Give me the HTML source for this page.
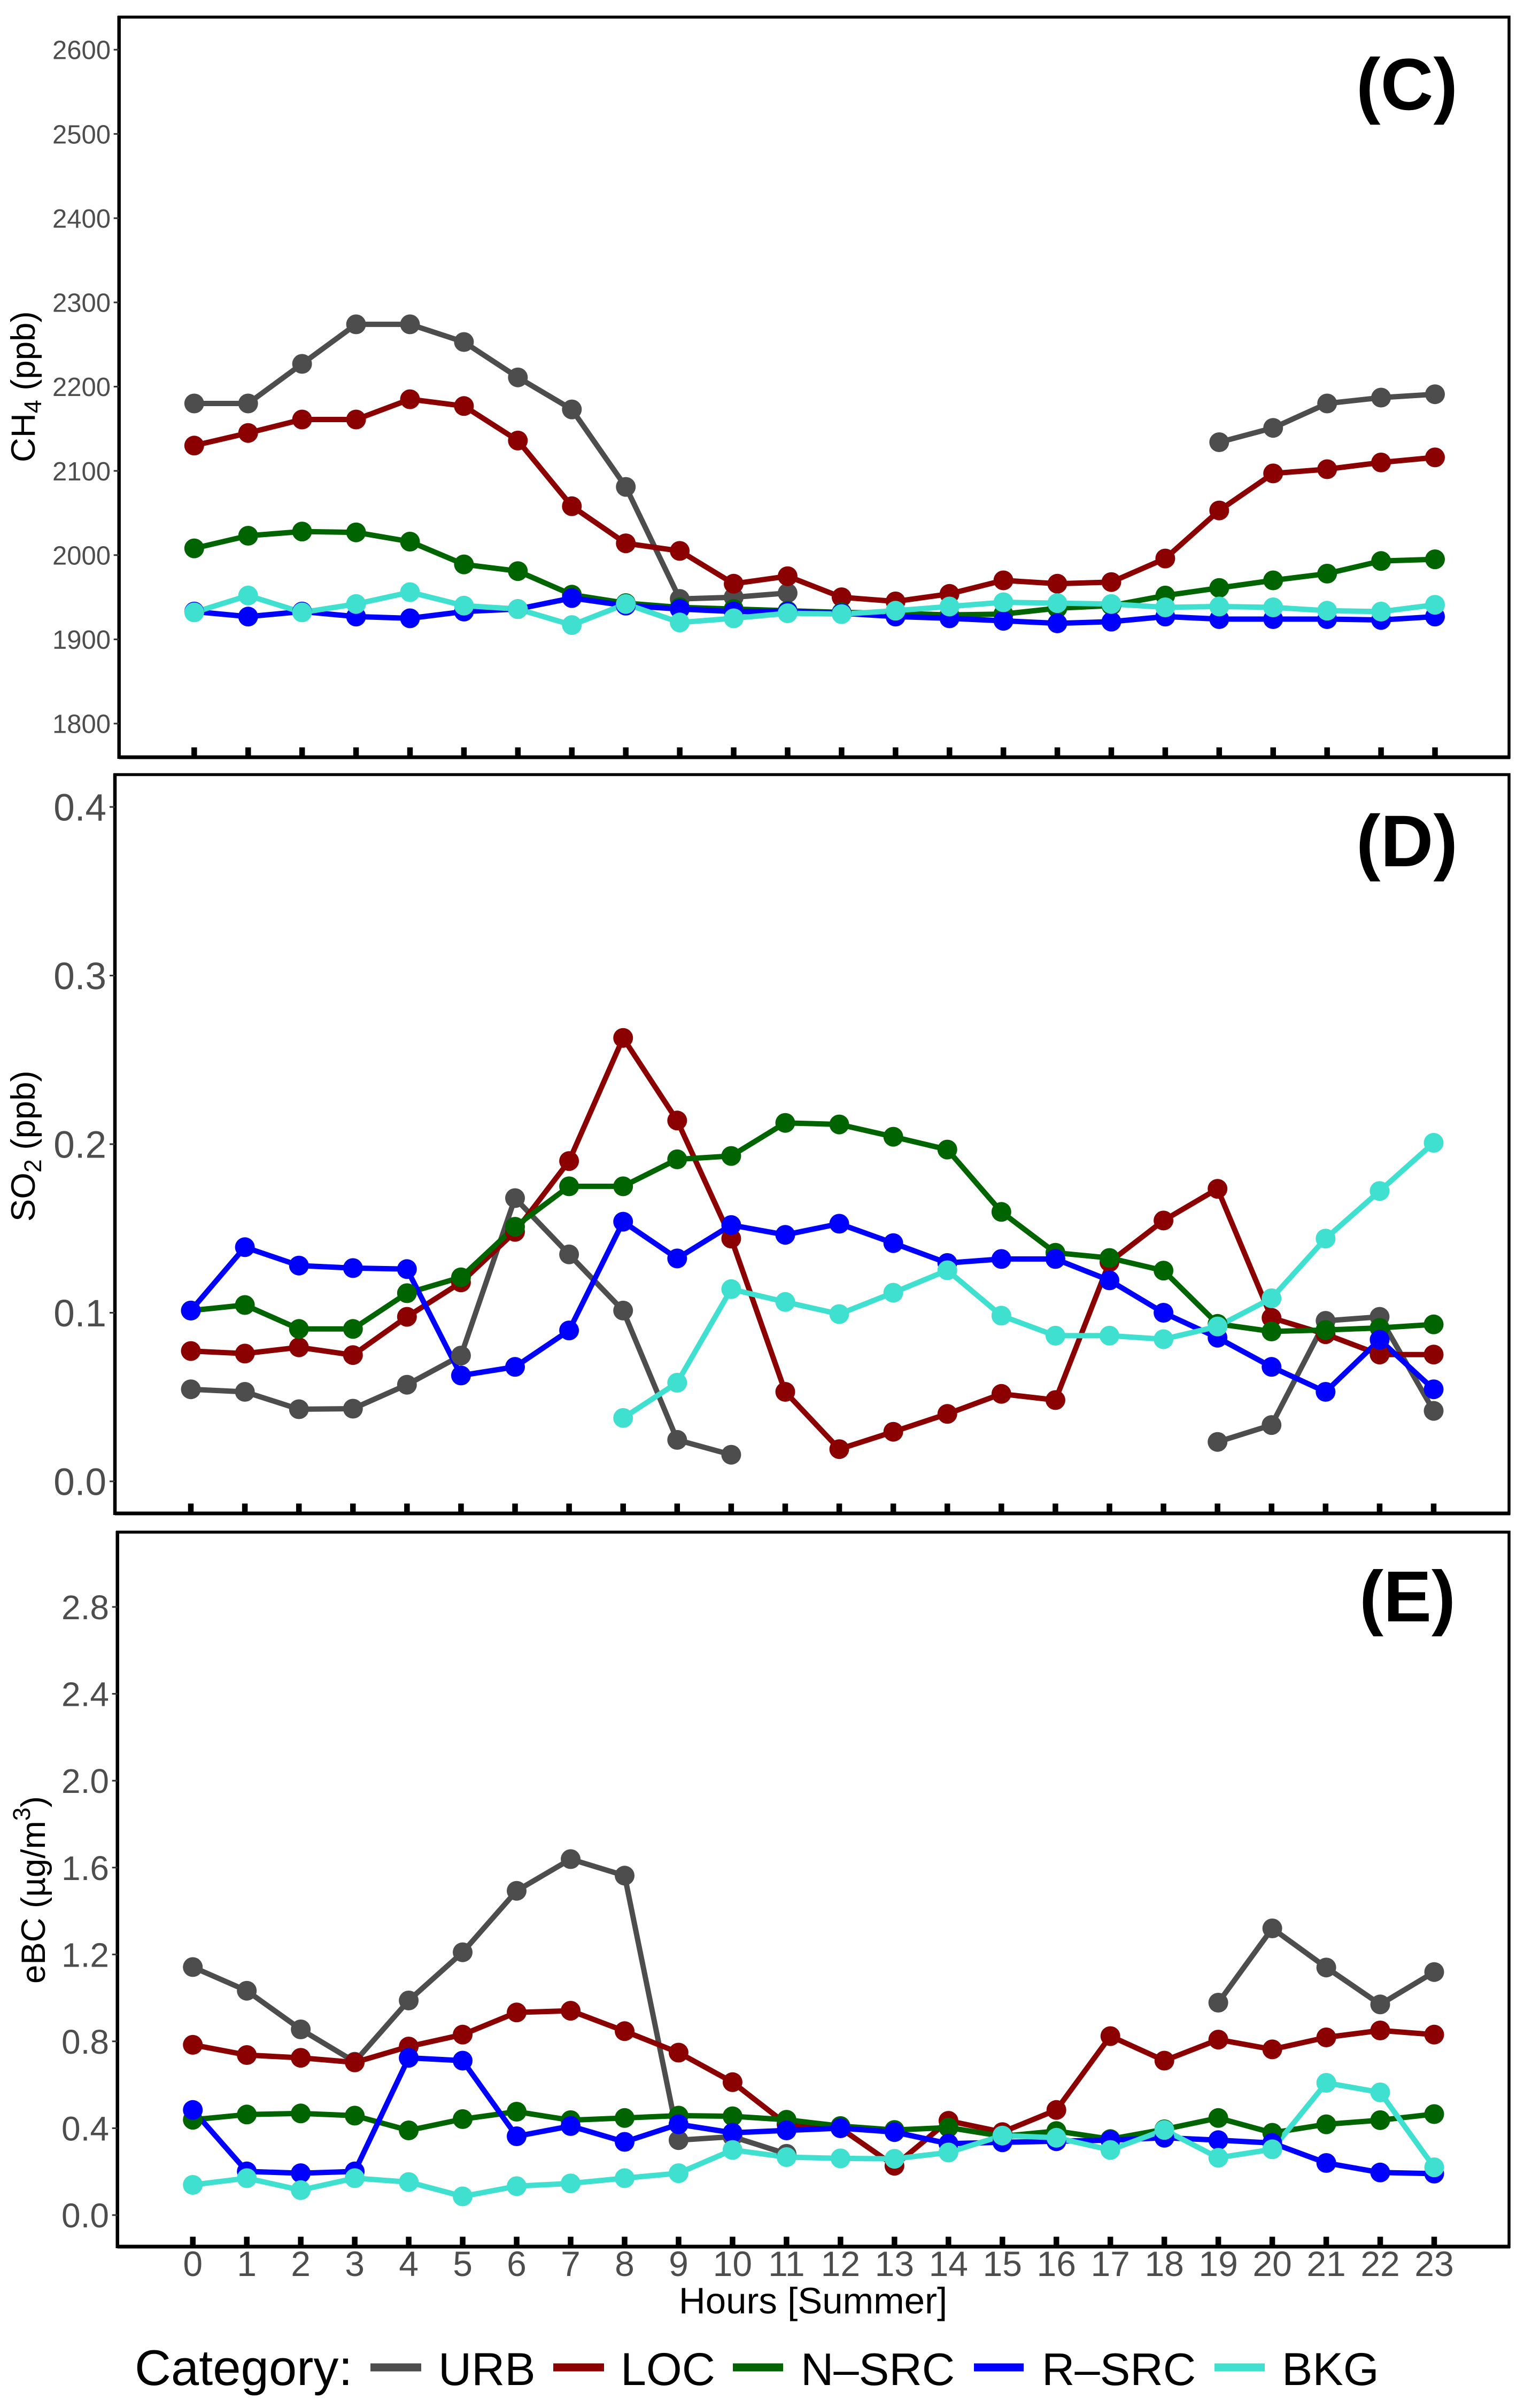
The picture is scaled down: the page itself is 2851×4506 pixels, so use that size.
<!DOCTYPE html>
<html lang="en">
<head>
<meta charset="utf-8">
<title>Diurnal profiles of CH4, SO2 and eBC by category (Summer)</title>
<style>
html,body{margin:0;padding:0;background:#fff;}
svg{display:block;font-family:"Liberation Sans",sans-serif;}
</style>
</head>
<body>
<svg id="chart" xmlns="http://www.w3.org/2000/svg" width="2851" height="4506" viewBox="0 0 2851 4506">
  <rect x="0" y="0" width="2851" height="4506" fill="#ffffff"/>
  <g id="plots"></g>

  <text transform="translate(65,865) rotate(-90)" font-size="63.5" fill="#000">CH<tspan font-size="45" dy="12">4</tspan><tspan dy="-12"> (ppb)</tspan></text>
  <text transform="translate(65,2286) rotate(-90)" font-size="63.5" fill="#000">SO<tspan font-size="45" dy="12">2</tspan><tspan dy="-12"> (ppb)</tspan></text>
  <text transform="translate(84,3712) rotate(-90)" font-size="63.5" fill="#000">eBC (µg/m<tspan font-size="45" dy="-28">3</tspan><tspan dy="28">)</tspan></text>

  <text x="2632" y="205" font-size="137" font-weight="bold" text-anchor="middle" fill="#000">(C)</text>
  <text x="2632" y="1621" font-size="137" font-weight="bold" text-anchor="middle" fill="#000">(D)</text>
  <text x="2633" y="3034" font-size="135" font-weight="bold" text-anchor="middle" fill="#000">(E)</text>

  <text x="1521" y="4329" font-size="69" text-anchor="middle" fill="#000">Hours [Summer]</text>

  <g>
    <text x="252" y="4463" font-size="94" fill="#000">Category:</text>
    <rect x="693" y="4422.5" width="95" height="15" fill="#4d4d4d"/>
    <text x="820" y="4463" font-size="86" fill="#000">URB</text>
    <rect x="1035" y="4422.5" width="95" height="15" fill="#8b0000"/>
    <text x="1161" y="4463" font-size="86" fill="#000">LOC</text>
    <rect x="1371" y="4422.5" width="94" height="15" fill="#006400"/>
    <text x="1498" y="4463" font-size="85" fill="#000">N–SRC</text>
    <rect x="1822" y="4422.5" width="93" height="15" fill="#0000ff"/>
    <text x="1949" y="4463" font-size="85" fill="#000">R–SRC</text>
    <rect x="2272" y="4422.5" width="94" height="15" fill="#40e0d0"/>
    <text x="2398" y="4463" font-size="86" fill="#000">BKG</text>
  </g>
</svg>

<script>
// ---- Categories and tick labels ----
const hours = [0,1,2,3,4,5,6,7,8,9,10,11,12,13,14,15,16,17,18,19,20,21,22,23];
const seriesNames = ['urb','loc','n-src','r-src','bkg'];
const ch4Ticks = [1800,1900,2000,2100,2200,2300,2400,2500,2600];
const so2Ticks = [0.0,0.1,0.2,0.3,0.4];
const ebcTicks = [0.0,0.4,0.8,1.2,1.6,2.0,2.4,2.8];
const ch4TickLabels = ['1800','1900','2000','2100','2200','2300','2400','2500','2600'];
const so2TickLabels = ['0.0','0.1','0.2','0.3','0.4'];
const ebcTickLabels = ['0.0','0.4','0.8','1.2','1.6','2.0','2.4','2.8'];

// ---- Panel C: CH4 (ppb) ----
const ch4Urb = [2180,2180,2227,2274,2274,2253,2211,2173,2081,1948,1950,1955,null,null,null,null,null,null,null,2134,2151,2180,2187,2191];
const ch4Loc = [2130,2145,2161,2161,2185,2177,2136,2058,2014,2005,1966,1975,1950,1945,1954,1970,1966,1968,1996,2053,2097,2102,2110,2116];
const ch4Nsrc = [2008,2023,2028,2027,2016,1989,1981,1953,1943,1938,1936,1934,1932,1931,1929,1930,1937,1940,1952,1961,1970,1978,1993,1995];
const ch4Rsrc = [1933,1927,1933,1927,1925,1933,1936,1949,1940,1936,1933,1933,1931,1927,1925,1922,1919,1921,1927,1924,1924,1924,1923,1927];
const ch4Bkg = [1932,1952,1932,1942,1956,1940,1936,1917,1942,1920,1925,1931,1930,1934,1939,1944,1943,1942,1938,1939,1938,1934,1933,1941];

// ---- Panel D: SO2 (ppb) ----
const so2Urb = [0.0546,0.0531,0.0428,0.0431,0.0573,0.0746,0.168,0.1346,0.1013,0.0246,0.0158,null,null,null,null,null,null,null,null,0.0234,0.0334,0.0952,0.0976,0.0418];
const so2Loc = [0.0773,0.0758,0.0795,0.0749,0.0976,0.118,0.148,0.190,0.263,0.214,0.144,0.0531,0.0191,0.0294,0.040,0.0519,0.0482,0.130,0.1547,0.1735,0.097,0.0873,0.0752,0.0752];
const so2Nsrc = [0.1013,0.1046,0.0904,0.0904,0.1116,0.121,0.151,0.175,0.175,0.191,0.193,0.2126,0.2117,0.2044,0.1968,0.1598,0.1356,0.1325,0.125,0.0934,0.0889,0.0898,0.091,0.0931];
const so2Rsrc = [0.1013,0.1389,0.128,0.1265,0.1259,0.0628,0.0679,0.0895,0.154,0.1322,0.152,0.1462,0.1528,0.1413,0.1295,0.1319,0.1319,0.1192,0.100,0.0852,0.0679,0.0531,0.084,0.0546];
const so2Bkg = [null,null,null,null,null,null,null,null,0.0376,0.0585,0.114,0.1064,0.0992,0.1119,0.1252,0.0983,0.0864,0.0864,0.0843,0.0919,0.1086,0.144,0.1722,0.2008];

// ---- Panel E: eBC (ug/m3) ----
const ebcUrb = [1.142,1.033,0.855,0.706,0.988,1.21,1.493,1.639,1.563,0.345,0.361,0.282,null,null,null,null,null,null,null,0.978,1.32,1.14,0.97,1.119];
const ebcLoc = [0.784,0.737,0.724,0.703,0.776,0.831,0.933,0.941,0.847,0.748,0.612,0.418,0.40,0.227,0.434,0.382,0.484,0.824,0.711,0.808,0.763,0.818,0.85,0.831];
const ebcNsrc = [0.439,0.463,0.468,0.458,0.39,0.442,0.476,0.437,0.447,0.458,0.455,0.439,0.41,0.392,0.403,0.363,0.387,0.35,0.395,0.447,0.379,0.418,0.437,0.465];
const ebcRsrc = [0.484,0.201,0.193,0.201,0.724,0.711,0.363,0.41,0.337,0.418,0.379,0.39,0.40,0.382,0.329,0.335,0.34,0.345,0.356,0.345,0.332,0.24,0.196,0.191];
const ebcBkg = [0.139,0.17,0.115,0.17,0.152,0.086,0.133,0.146,0.17,0.193,0.30,0.267,0.261,0.259,0.288,0.366,0.356,0.30,0.392,0.264,0.303,0.609,0.565,0.22];

// ---- Styling (not data) ----
const seriesColors = ['#4d4d4d','#8b0000','#006400','#0000ff','#40e0d0'];
const NS = 'http://www.w3.org/2000/svg';
const plots = document.getElementById('plots');

function svgEl(tag, attrs, parent){
  const el = document.createElementNS(NS, tag);
  for (const k in attrs) el.setAttribute(k, attrs[k]);
  parent.appendChild(el);
  return el;
}

function drawPanel(id, box, xRange, yRange, yDomain, yTicks, yLabels, tickFont, labelRight, seriesData, showXLabels){
  const xScale = h => xRange[0] + (h - hours[0]) * (xRange[1] - xRange[0]) / (hours[hours.length-1] - hours[0]);
  const yScale = v => yRange[0] + (v - yDomain[0]) * (yRange[1] - yRange[0]) / (yDomain[1] - yDomain[0]);

  const g = svgEl('g', {}, plots);
  
  

  // lines under points, in series order
  seriesData.forEach((values, s) => {
    let seg = [];
    const flush = () => {
      if (seg.length > 1) {
        const line = svgEl('polyline', {points: seg.join(' '), fill: 'none', stroke: seriesColors[s], 'stroke-width': 10, 'stroke-linejoin': 'round', 'stroke-linecap': 'butt'}, g);
        
        
      }
      seg = [];
    };
    values.forEach((v, i) => {
      if (v === null) { flush(); } else { seg.push(xScale(hours[i]).toFixed(1) + ',' + yScale(v).toFixed(1)); }
    });
    flush();
  });
  seriesData.forEach((values, s) => {
    values.forEach((v, i) => {
      if (v === null) return;
      const dot = svgEl('circle', {cx: xScale(hours[i]).toFixed(1), cy: yScale(v).toFixed(1), r: 18.5, fill: seriesColors[s]}, g);
      
      
    });
  });

  // frame
  const frame = svgEl('rect', {x: box.left, y: box.top, width: box.right - box.left, height: box.bottom - box.top, fill: 'none', stroke: '#000', 'stroke-width': 5.5}, g);
  
  
  const leftAxis = svgEl('line', {x1: box.left, x2: box.left, y1: box.top - 2, y2: box.bottom + 3, stroke: '#000', 'stroke-width': 6.5}, g);
  
  
  const bottomAxis = svgEl('line', {x1: box.left, x2: box.right + 2, y1: box.bottom, y2: box.bottom, stroke: '#000', 'stroke-width': 7}, g);
  
  

  // y ticks and labels
  yTicks.forEach((t, i) => {
    const y = yScale(t);
    const tick = svgEl('line', {x1: box.left - 10, x2: box.left, y1: y, y2: y, stroke: '#333', 'stroke-width': 3}, g);
    
    
    const label = svgEl('text', {x: labelRight, y: y + tickFont * 0.36, 'font-size': tickFont, 'text-anchor': 'end', fill: '#4d4d4d'}, g);
    label.textContent = yLabels[i];
    
    
  });

  // x ticks and labels
  hours.forEach(h => {
    const x = xScale(h);
    const tick = svgEl('rect', {x: x - 5.25, y: box.bottom - 18.5, width: 10.5, height: 18.5, fill: '#000'}, g);
    
    
    if (showXLabels) {
      const label = svgEl('text', {x: x, y: box.bottom + 55, 'font-size': 66, 'text-anchor': 'middle', fill: '#4d4d4d'}, g);
      label.textContent = String(h);
      
      
    }
  });
}

drawPanel('ch4', {left:222.7,right:2823,top:32,bottom:1417}, [363.3,2684.5], [1354,93], [1800,2600],
  ch4Ticks, ch4TickLabels, 49, 207, [ch4Urb,ch4Loc,ch4Nsrc,ch4Rsrc,ch4Bkg], false);
drawPanel('so2', {left:215,right:2823,top:1449.5,bottom:2832}, [357,2682], [2772,1510], [0,0.4],
  so2Ticks, so2TickLabels, 71, 199, [so2Urb,so2Loc,so2Nsrc,so2Rsrc,so2Bkg], false);
drawPanel('ebc', {left:219.7,right:2823,top:2867,bottom:4204}, [360.7,2683], [4145,3007], [0,2.8],
  ebcTicks, ebcTickLabels, 64, 204, [ebcUrb,ebcLoc,ebcNsrc,ebcRsrc,ebcBkg], true);
</script>
</body>
</html>
